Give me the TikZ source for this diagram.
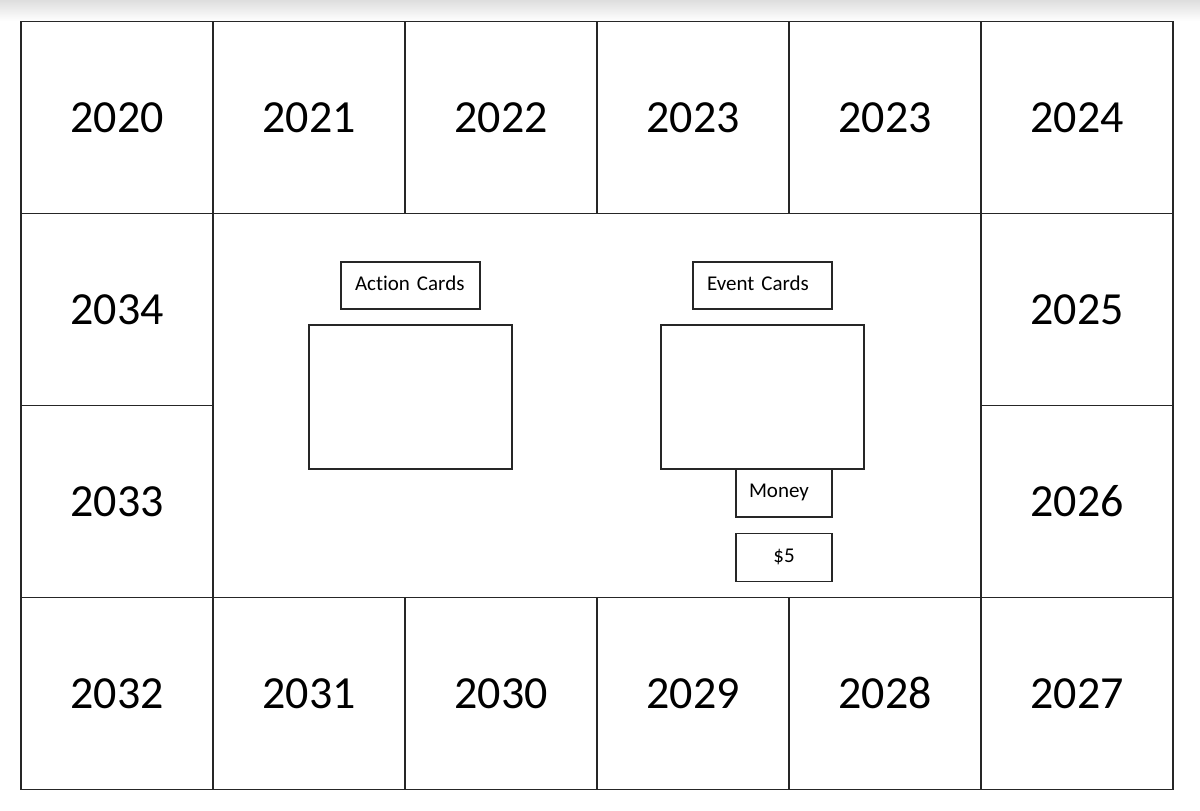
\documentclass[tikz,border=0pt]{standalone}
\usepackage{fontspec}
\setmainfont[Ligatures={NoCommon,NoRare}]{Carlito}
\begin{document}
\begin{tikzpicture}[x=1pt,y=-1pt,
  cell/.style={draw=black!85,line width=1.3pt,minimum width=192pt,minimum height=192pt,inner sep=0pt,outer sep=0pt,text height=30pt,text depth=0pt,font=\fontsize{46}{46}\selectfont},
  bigbox/.style={draw=black!85,line width=1.3pt,minimum width=203pt,minimum height=144pt,inner sep=0pt,outer sep=0pt},
  label/.style={draw=black!85,line width=1.3pt,minimum width=139pt,minimum height=47pt,inner ysep=0pt,inner xsep=14pt,outer sep=0pt,text width=111pt,align=left,text height=14pt,text depth=5pt,font=\fontsize{21}{21}\selectfont},
  money/.style={draw=black!85,line width=1.3pt,minimum width=96pt,minimum height=48pt,inner ysep=0pt,inner xsep=13pt,outer sep=0pt,text width=70pt,text height=14pt,text depth=6pt,font=\fontsize{21}{21}\selectfont}]
\useasboundingbox (0,0) rectangle (1200,811);
\fill[white] (0,0) rectangle (1200,811);
\shade[top color=black!13,bottom color=white] (0,0) rectangle (1200,21);
% top row
\node[cell] (c2020) at (117,117.5) {2020};
\node[cell] (c2021) at (309,117.5) {2021};
\node[cell] (c2022) at (501,117.5) {2022};
\node[cell] (c2023a) at (693,117.5) {2023};
\node[cell] (c2023b) at (885,117.5) {2023};
\node[cell] (c2024) at (1077,117.5) {2024};
% right column
\node[cell] (c2025) at (1077,309.5) {2025};
\node[cell] (c2026) at (1077,501.5) {2026};
% bottom row
\node[cell] (c2027) at (1077,693.5) {2027};
\node[cell] (c2028) at (885,693.5) {2028};
\node[cell] (c2029) at (693,693.5) {2029};
\node[cell] (c2030) at (501,693.5) {2030};
\node[cell] (c2031) at (309,693.5) {2031};
\node[cell] (c2032) at (117,693.5) {2032};
% left column
\node[cell] (c2033) at (117,501.5) {2033};
\node[cell] (c2034) at (117,309.5) {2034};
% centre
\node[label] (action) at (410.5,285.5) {Action Cards};
\node[bigbox] (actionpile) at (410.5,397) {};
\node[label] (event) at (762.5,285.5) {Event Cards};
\node[bigbox] (eventpile) at (762.5,397) {};
\node[money,align=left] (money) at (784,493) {Money};
\node[money,align=center,text depth=4.5pt] (five) at (784,557.5) {\$5};
\end{tikzpicture}
\end{document}
